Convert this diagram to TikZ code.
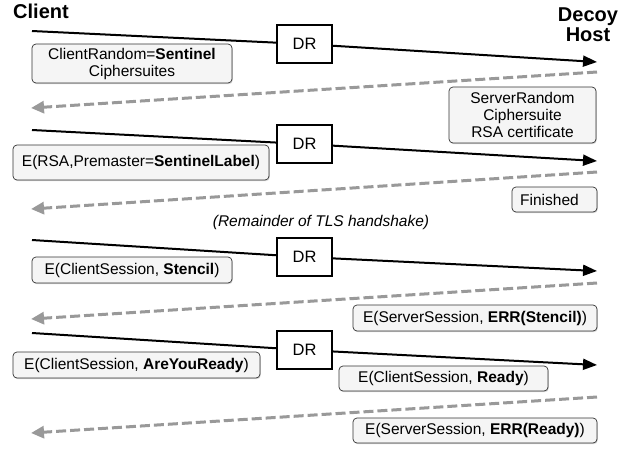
\documentclass[tikz,border=0pt]{standalone}
\usepackage{fontspec}
\setmainfont{Liberation Sans}
\usetikzlibrary{arrows.meta,shadows}
\definecolor{boxfill}{HTML}{F5F5F5}
\definecolor{boxline}{HTML}{333333}
\definecolor{dashgray}{HTML}{999999}
\tikzset{
  msg/.style={draw=boxline, fill=boxfill, rounded corners=4pt, line width=0.7pt,
    inner sep=0pt, align=center, font=\fontsize{15.5}{17}\selectfont,
    drop shadow={opacity=0.3, shadow xshift=0.8pt, shadow yshift=-1.2pt}},
  drbox/.style={draw=black, fill=white, line width=1.2pt, minimum width=55pt,
    minimum height=38pt, inner sep=0pt, font=\fontsize{16.5}{18}\selectfont},
  sendline/.style={draw=black, line width=2pt, -{Triangle[length=14pt,width=11pt]}},
  replyline/.style={draw=dashgray, line width=3pt, dash pattern=on 10pt off 4pt,
    -{Triangle[length=13pt,width=12pt,fill=dashgray]}},
  party/.style={font=\fontsize{20}{21}\selectfont\bfseries, align=center, inner sep=0pt},
}
\begin{document}
\begin{tikzpicture}[x=1pt,y=-1pt]
\useasboundingbox (0,0) rectangle (636,448);
\fill[white] (0,0) rectangle (636,448);

% parties
\node[party, anchor=base west] (client) at (13,18.5) {Client};
\node[party] (decoy) at (588,25) {Decoy\\[-1pt]Host};

% endpoints
\coordinate (s1a) at (32,31);   \coordinate (s1b) at (597,62);
\coordinate (s2a) at (32,130);  \coordinate (s2b) at (597,161);
\coordinate (s3a) at (32,240);  \coordinate (s3b) at (597,271);
\coordinate (s4a) at (32,333);  \coordinate (s4b) at (597,365);
\coordinate (r1a) at (597,72);  \coordinate (r1b) at (31,108);
\coordinate (r2a) at (597,172); \coordinate (r2b) at (31,209);
\coordinate (r3a) at (597,283); \coordinate (r3b) at (31,319);
\coordinate (r4a) at (597,397); \coordinate (r4b) at (31,433);

% DR boxes
\node[drbox] (dr1) at (304.5,44) {DR};
\node[drbox] (dr2) at (304.5,144) {DR};
\node[drbox] (dr3) at (304.5,257) {DR};
\node[drbox] (dr4) at (304.5,350) {DR};

% solid client->host
\draw[sendline] (s1a) -- (dr1) -- (s1b);
\draw[sendline] (s2a) -- (dr2) -- (s2b);
\draw[sendline] (s3a) -- (dr3) -- (s3b);
\draw[sendline] (s4a) -- (dr4) -- (s4b);

% dashed host->client
\draw[replyline] (r1a) -- (r1b);
\draw[replyline] (r2a) -- (r2b);
\draw[replyline] (r3a) -- (r3b);
\draw[replyline] (r4a) -- (r4b);

% message boxes
\node[msg, minimum width=200pt, minimum height=39pt] (m1) at (132,63.5)
  {ClientRandom=\textbf{Sentinel}\\Ciphersuites};
\node[msg, minimum width=147pt, minimum height=56pt] (m2) at (522.5,115)
  {ServerRandom\\Ciphersuite\\RSA certificate};
\node[msg, minimum width=256pt, minimum height=35pt] (m3) at (141,162.5)
  {E(RSA,Premaster=\textbf{SentinelLabel})};
\node[msg, minimum width=85pt, minimum height=25pt] (m4) at (554.5,199.5)
  {Finished\hspace{10pt}};
\node[font=\fontsize{15.5}{17}\selectfont\itshape, inner sep=0pt] (rem) at (321,222)
  {(Remainder of TLS handshake)};
\node[msg, minimum width=200pt, minimum height=26pt] (m5) at (132,270)
  {E(ClientSession, \textbf{Stencil})};
\node[msg, minimum width=244pt, minimum height=26pt] (m6) at (475,318)
  {E(ServerSession, \textbf{ERR(Stencil)})};
\node[msg, minimum width=247pt, minimum height=26pt] (m7) at (136.5,365)
  {E(ClientSession, \textbf{AreYouReady})};
\node[msg, minimum width=209pt, minimum height=25pt] (m8) at (443.5,378.5)
  {E(ClientSession, \textbf{Ready})};
\node[msg, minimum width=244pt, minimum height=25pt] (m9) at (475,430.5)
  {E(ServerSession, \textbf{ERR(Ready)})};
\end{tikzpicture}
\end{document}
